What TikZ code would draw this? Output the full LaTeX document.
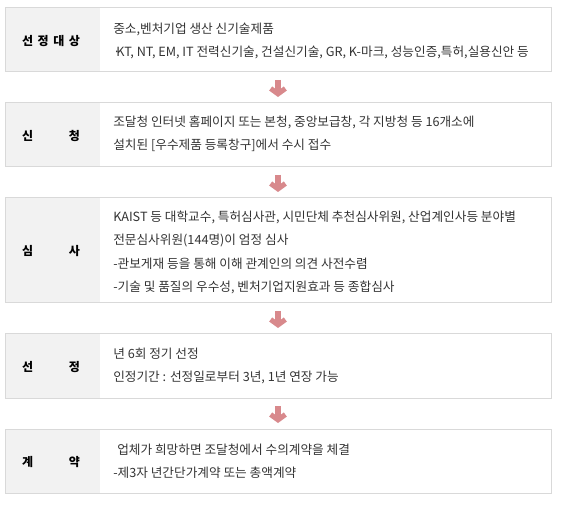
\documentclass[tikz,border=0pt]{standalone}
\usepackage{fontspec}
\setmainfont{Noto Sans CJK KR}
\usepackage{tikz}
\usetikzlibrary{arrows.meta,calc}

\definecolor{cellline}{HTML}{D9D9D9}
\definecolor{cellgray}{HTML}{F2F2F2}
\definecolor{arrowpink}{HTML}{D8898C}
\definecolor{textgray}{HTML}{333333}
\newcommand{\spreadlabel}[1]{\makebox[43.5pt][s]{#1}}

\begin{document}
\begin{tikzpicture}[x=0.75pt,y=-0.75pt,
  stepbox/.style={draw=cellline, line width=0.75pt, inner sep=0pt, outer sep=0pt,
    minimum width=409.5pt,
    path picture={\fill[cellgray] (path picture bounding box.north west) rectangle ([xshift=71.25pt]path picture bounding box.south west);}},
  labeltext/.style={font=\fontsize{9}{11}\selectfont\bfseries, text=black, inner sep=0pt},
  bodyline/.style={font=\fontsize{9.5}{17.4}\selectfont, text=textgray, align=left, anchor=west, inner sep=0pt},
  flowarrow/.style={draw=arrowpink, line width=3.8pt, -{Straight Barb[length=4pt,width=11pt]}}]
\useasboundingbox (0,0) rectangle (563,505);

% boxes
\node[stepbox, minimum height=48pt] (b1) at (278,40) {};
\node[stepbox, minimum height=48pt] (b2) at (278,135) {};
\node[stepbox, minimum height=78.75pt] (b3) at (278,250.5) {};
\node[stepbox, minimum height=48pt] (b4) at (278,366) {};
\node[stepbox, minimum height=48pt] (b5) at (278,461) {};

% left labels
\node[labeltext] (l1) at ($(b1.west)+(46,1)$) {\spreadlabel{선\hfill 정\hfill 대\hfill 상}};
\node[labeltext] (l2) at ($(b2.west)+(46,1)$) {\spreadlabel{신\hfill 청}};
\node[labeltext] (l3) at ($(b3.west)+(46,1)$) {\spreadlabel{심\hfill 사}};
\node[labeltext] (l4) at ($(b4.west)+(46,1)$) {\spreadlabel{선\hfill 정}};
\node[labeltext] (l5) at ($(b5.west)+(46,1)$) {\spreadlabel{계\hfill 약}};

% texts
\node[bodyline] (t1) at ($(b1.west)+(108,1)$) {중소,벤처기업 생산 신기술제품\\·\kern-3pt KT, NT, EM, IT 전력신기술, 건설신기술, GR, K-마크, 성능인증,특허,실용신안 등};
\node[bodyline] (t2) at ($(b2.west)+(108,-1)$) {조달청 인터넷 홈페이지 또는 본청, 중앙보급창, 각 지방청 등 16개소에\\설치된 [우수제품 등록창구]에서 수시 접수};
\node[bodyline] (t3) at ($(b3.west)+(108,2)$) {KAIST 등 대학교수, 특허심사관, 시민단체 추천심사위원, 산업계인사등 분야별\\전문심사위원(144명)이 엄정 심사\\-관보게재 등을 통해 이해 관계인의 의견 사전수렴\\-기술 및 품질의 우수성, 벤처기업지원효과 등 종합심사};
\node[bodyline] (t4) at ($(b4.west)+(108,0)$) {년 6회 정기 선정\\인정기간 : 선정일로부터 3년, 1년 연장 가능};
\node[bodyline] (t5) at ($(b5.west)+(108,0)$) {\hspace*{3pt}업체가 희망하면 조달청에서 수의계약을 체결\\-제3자 년간단가계약 또는 총액계약};

% arrows
\draw[flowarrow] ([yshift=-6pt]b1.south) -- ([yshift=4.5pt]b2.north);
\draw[flowarrow] ([yshift=-6pt]b2.south) -- ([yshift=4.5pt]b3.north);
\draw[flowarrow] ([yshift=-6pt]b3.south) -- ([yshift=4.5pt]b4.north);
\draw[flowarrow] ([yshift=-6pt]b4.south) -- ([yshift=4.5pt]b5.north);
\end{tikzpicture}
\end{document}
